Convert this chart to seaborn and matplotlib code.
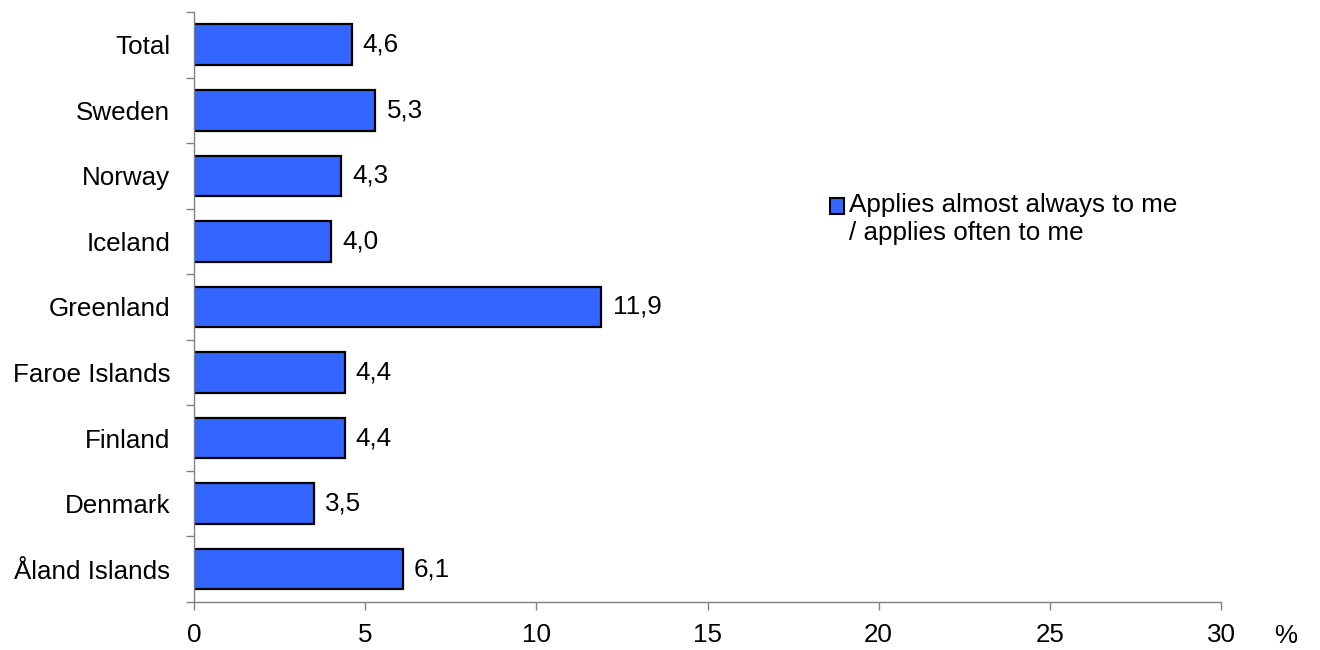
import numpy as np
import pandas as pd
import seaborn as sns
import matplotlib.pyplot as plt

# Data
countries = ["Total", "Sweden", "Norway", "Iceland", "Greenland",
             "Faroe Islands", "Finland", "Denmark", "Åland Islands"]
values = [4.6, 5.3, 4.3, 4.0, 11.9, 4.4, 4.4, 3.5, 6.1]
x_ticks = [0, 5, 10, 15, 20, 25, 30]
series_name = "Applies almost always to me\n/ applies often to me"

df = pd.DataFrame({"country": countries, "value": values})

sns.set_style("white")
plt.rcParams["font.family"] = ["Liberation Sans", "DejaVu Sans"]
plt.rcParams["text.color"] = "black"
FS = 18.7

fig = plt.figure(figsize=(13.2, 6.5), dpi=100)
ax = fig.add_axes([0.147, 0.074, 0.778, 0.9075])

sns.barplot(
    data=df, x="value", y="country", orient="h", color="#3366FF",
    saturation=1, edgecolor="black", linewidth=1.6, width=0.62, ax=ax,
    label=series_name,
)

# Value labels with decimal comma
for cont in ax.containers:
    ax.bar_label(cont, labels=[f"{v:.1f}".replace(".", ",") for v in values],
                 padding=8, fontsize=FS, color="black")

ax.set_xlim(0, 30)
ax.set_ylim(len(countries) - 0.5, -0.5)
ax.set_xticks(x_ticks)
ax.set_xticklabels([str(t) for t in x_ticks])
ax.set_yticks(np.arange(len(countries) + 1) - 0.5, minor=True)
ax.set_xlabel("")
ax.set_ylabel("")

ax.tick_params(axis="y", which="major", length=0, pad=17, labelsize=FS, labelcolor="black")
ax.tick_params(axis="y", which="minor", length=6, width=1, color="#808080", direction="out", left=True)
ax.tick_params(axis="x", which="major", length=6, width=1, color="#808080", direction="out",
               bottom=True, pad=9, labelsize=FS, labelcolor="black")

sns.despine(ax=ax, top=True, right=True)
for side in ["left", "bottom"]:
    ax.spines[side].set_color("#808080")
    ax.spines[side].set_linewidth(1)

fig.text(0.974, 0.021, "%", fontsize=FS, ha="center", va="center", color="black")

leg = ax.legend(loc="upper left", bbox_to_anchor=(0.609, 0.71), frameon=False,
                fontsize=FS, handlelength=0.55, handleheight=0.55,
                handletextpad=0.2, borderaxespad=0, labelcolor="black")
# Line the square up with the first line of the label
for h in leg.legend_handles:
    h.set_linewidth(1.5)
    h.set_y(h.get_y() + 10)

fig.savefig("out.png", dpi=100)
